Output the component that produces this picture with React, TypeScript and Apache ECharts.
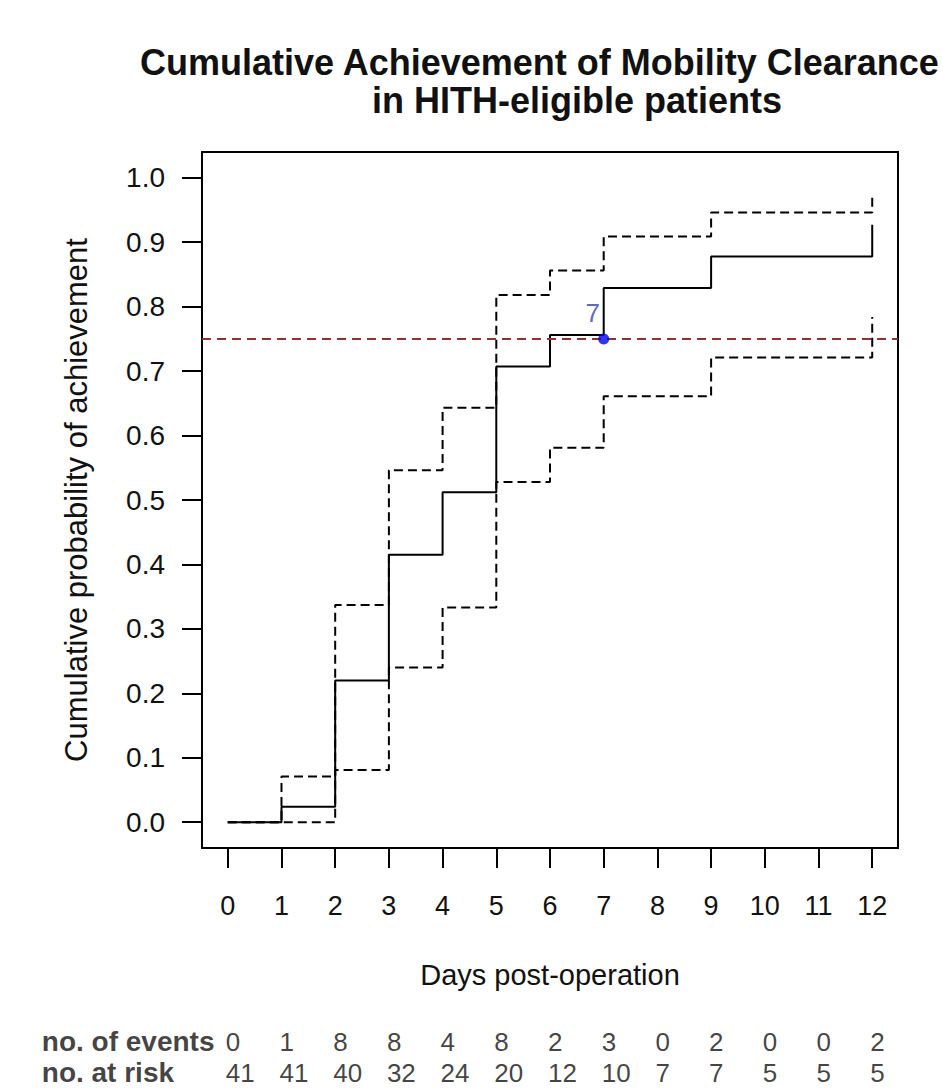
import React, { useEffect, useRef } from "react";
import * as echarts from "echarts";

// Kaplan-Meier style cumulative incidence
const stepTimes = [0, 1, 2, 3, 4, 5, 6, 7, 9, 12];
const estimate = [0, 0.024, 0.22, 0.415, 0.512, 0.707, 0.756, 0.829, 0.878, 0.927];
const upperCI = [0, 0.071, 0.337, 0.546, 0.643, 0.818, 0.856, 0.909, 0.946, 0.97];
const lowerCI = [0, 0, 0.081, 0.24, 0.333, 0.528, 0.581, 0.661, 0.721, 0.784];

const targetLevel = 0.75;
const medianPoint = [7, 0.75];
const medianLabel = "7";

const xTicks = [0, 1, 2, 3, 4, 5, 6, 7, 8, 9, 10, 11, 12];
const yTicks = [0, 0.1, 0.2, 0.3, 0.4, 0.5, 0.6, 0.7, 0.8, 0.9, 1.0];

const riskRows = ["no. of events", "no. at risk"];
const riskRowPos = [1, 0];
const riskTimes = [0, 1, 2, 3, 4, 5, 6, 7, 8, 9, 10, 11, 12];
const events = [0, 1, 8, 8, 4, 8, 2, 3, 0, 2, 0, 0, 2];
const atRisk = [41, 41, 40, 32, 24, 20, 12, 10, 7, 7, 5, 5, 5];

const titleLines = ["Cumulative Achievement of Mobility Clearance", "in HITH-eligible patients"];

const FONT = "'Liberation Sans', Arial, Helvetica, sans-serif";
const TXT = "#111";

export default function App() {
  const ref = useRef<HTMLDivElement>(null);

  useEffect(() => {
    if (!ref.current) return;
    const chart = echarts.init(ref.current, undefined, { renderer: "svg" });

    const pairs = (ys: number[]) => stepTimes.map((t, i) => [t, ys[i]]);
    const riskData = [
      ...riskTimes.map((t, i) => [t, riskRowPos[0], events[i]]),
      ...riskTimes.map((t, i) => [t, riskRowPos[1], atRisk[i]]),
    ];
    const rowLabelData = riskRows.map((r, i) => [riskTimes[0], riskRowPos[i], r]);

    const dashed = { color: "#000", width: 2, type: [9, 5] as any };
    const titleStyle = {
      fontFamily: FONT,
      fontSize: 36,
      fontWeight: "bold",
      color: TXT,
    };

    chart.setOption({
      animation: false,
      backgroundColor: "#fff",
      textStyle: { fontFamily: FONT },
      title: [
        { text: titleLines[0], left: 135, top: 39, textStyle: titleStyle },
        { text: titleLines[1], left: 572, top: 77, textAlign: "center", textStyle: titleStyle },
      ],
      grid: [
        {
          left: 202,
          right: 45,
          top: 152,
          bottom: 241,
          show: true,
          borderColor: "#000",
          borderWidth: 2,
          backgroundColor: "transparent",
        },
        {
          left: 202,
          right: 45,
          top: 1020,
          bottom: 0,
          show: false,
        },
      ],
      xAxis: [
        {
          type: "value",
          gridIndex: 0,
          min: -0.48,
          max: 12.48,
          axisLine: { show: false, onZero: false },
          splitLine: { show: false },
          axisTick: {
            show: true,
            inside: false,
            length: 20,
            customValues: xTicks,
            lineStyle: { color: "#000", width: 2 },
          },
          axisLabel: {
            customValues: xTicks,
            margin: 44,
            fontSize: 27,
            color: TXT,
            fontFamily: FONT,
            formatter: (v: number) => String(v),
          },
          name: "Days post-operation",
          nameLocation: "middle",
          nameGap: 112,
          nameTextStyle: { fontSize: 29, color: TXT, fontFamily: FONT },
        },
        {
          type: "value",
          gridIndex: 1,
          min: -0.48,
          max: 12.48,
          show: false,
        },
      ],
      yAxis: [
        {
          type: "value",
          gridIndex: 0,
          min: -0.04,
          max: 1.04,
          axisLine: { show: false, onZero: false },
          splitLine: { show: false },
          axisTick: {
            show: true,
            inside: false,
            length: 20,
            customValues: yTicks,
            lineStyle: { color: "#000", width: 2 },
          },
          axisLabel: {
            customValues: yTicks,
            margin: 37,
            fontSize: 28,
            color: TXT,
            fontFamily: FONT,
            formatter: (v: number) => v.toFixed(1),
          },
          name: "Cumulative probability of achievement",
          nameLocation: "middle",
          nameGap: 110,
          nameTextStyle: { fontSize: 31, color: TXT, fontFamily: FONT },
        },
        {
          type: "value",
          gridIndex: 1,
          min: -0.52,
          max: 1.71,
          show: false,
        },
      ],
      series: [
        {
          name: "upper",
          type: "line",
          xAxisIndex: 0,
          yAxisIndex: 0,
          step: "end",
          data: pairs(upperCI),
          symbol: "none",
          lineStyle: dashed,
          z: 2,
        },
        {
          name: "lower",
          type: "line",
          xAxisIndex: 0,
          yAxisIndex: 0,
          step: "end",
          data: pairs(lowerCI),
          symbol: "none",
          lineStyle: dashed,
          z: 2,
        },
        {
          name: "estimate",
          type: "line",
          xAxisIndex: 0,
          yAxisIndex: 0,
          step: "end",
          data: pairs(estimate),
          symbol: "none",
          lineStyle: { color: "#000", width: 2 },
          z: 3,
          markLine: {
            silent: true,
            symbol: ["none", "none"],
            label: { show: false },
            lineStyle: { color: "#8e3232", width: 2, type: [9, 6] as any },
            data: [{ yAxis: targetLevel }],
          },
        },
        {
          name: "median",
          type: "scatter",
          xAxisIndex: 0,
          yAxisIndex: 0,
          data: [medianPoint],
          symbol: "circle",
          symbolSize: 11,
          itemStyle: { color: "#0000ee" },
          z: 5,
          label: {
            show: true,
            position: "top",
            distance: 7,
            offset: [-11, 0],
            formatter: () => medianLabel,
            fontSize: 26,
            color: "#3344aa",
            fontFamily: FONT,
          },
        },
        {
          name: "risk",
          type: "scatter",
          xAxisIndex: 1,
          yAxisIndex: 1,
          data: riskData,
          symbolSize: 0,
          silent: true,
          label: {
            show: true,
            position: "right",
            distance: -2,
            formatter: (p: any) => String(p.value[2]),
            fontSize: 26,
            color: TXT,
            fontFamily: FONT,
          },
        },
        {
          name: "riskRows",
          type: "scatter",
          xAxisIndex: 1,
          yAxisIndex: 1,
          data: rowLabelData,
          symbolSize: 0,
          silent: true,
          label: {
            show: true,
            position: [-186, 0],
            align: "left",
            verticalAlign: "middle",
            formatter: (p: any) => String(p.value[2]),
            fontSize: 28,
            fontWeight: "bold",
            color: TXT,
            fontFamily: FONT,
          },
        },
      ],
    });

    return () => chart.dispose();
  }, []);

  return (
    <div
      ref={ref}
      style={{ position: "fixed", left: 0, top: 0, width: 943, height: 1089 }}
    />
  );
}
